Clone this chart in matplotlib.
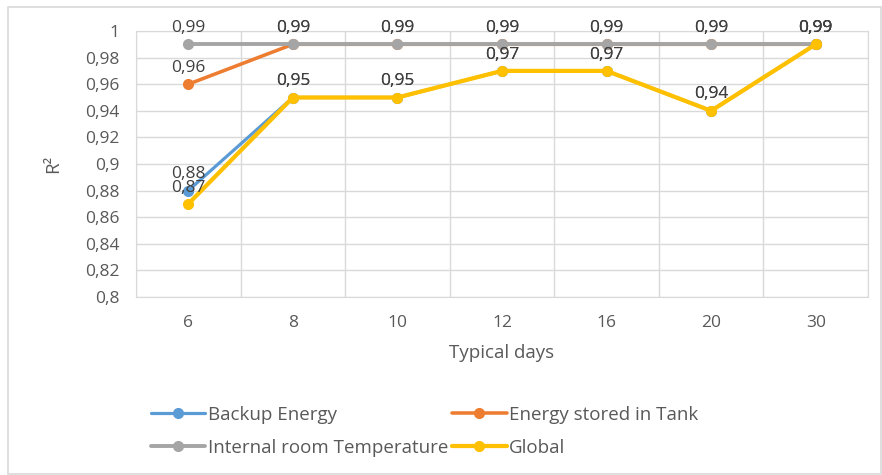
import numpy as np
import matplotlib.pyplot as plt
from matplotlib.patches import Rectangle

plt.rcParams['font.family'] = ['Open Sans', 'DejaVu Sans']

days = ['6', '8', '10', '12', '16', '20', '30']
backup = [0.88, 0.95, 0.95, 0.97, 0.97, 0.94, 0.99]
tank = [0.96, 0.99, 0.99, 0.99, 0.99, 0.99, 0.99]
room = [0.99, 0.99, 0.99, 0.99, 0.99, 0.99, 0.99]
glob = [0.87, 0.95, 0.95, 0.97, 0.97, 0.94, 0.99]

names = ['Backup Energy', 'Energy stored in Tank', 'Internal room Temperature', 'Global']
colors = ['#5B9BD5', '#ED7D31', '#A5A5A5', '#FFC000']
txt = '#595959'

fig = plt.figure(figsize=(8.82, 4.75), dpi=100)
fig.patches.append(Rectangle((8/882, 1/475), 873/882, 467/475, transform=fig.transFigure,
                             fill=False, edgecolor='#D9D9D9', lw=1.2))
ax = fig.add_axes([136/882, 1-297/475, 732/882, 266/475])

x = np.arange(len(days))
handles = []
for i, (ser, name, c) in enumerate(zip([backup, tank, room, glob], names, colors)):
    h, = ax.plot(x, ser, color=c, lw=2.3 + 0.25 * i, marker='o', ms=7, label=name,
                 solid_capstyle='round', zorder=3 + i * 0.1)
    handles.append(h)
    for xi, v in zip(x, ser):
        ax.annotate(f'{v:.2f}'.replace('.', ','), (xi, v), xytext=(0, 6),
                    textcoords='offset points', ha='center', va='bottom',
                    fontsize=12.5, color='#404040', zorder=4)

ax.set_xlim(-0.5, len(days) - 0.5)
ax.set_ylim(0.8, 1.0)
yt = np.arange(0.8, 1.001, 0.02)
ax.set_yticks(yt)
ax.set_yticklabels([f'{v:.2f}'.rstrip('0').rstrip('.').replace('.', ',') for v in yt])
ax.set_xticks(x)
ax.set_xticklabels(days)
ax.set_xticks(np.arange(-0.5, len(days), 1), minor=True)
ax.grid(True, which='major', axis='y', color='#D9D9D9', lw=1)
ax.grid(True, which='minor', axis='x', color='#D9D9D9', lw=1)
ax.set_axisbelow(True)
for s in ax.spines.values():
    s.set_color('#D9D9D9')
ax.tick_params(which='both', length=0, colors=txt, labelsize=12.5)
ax.tick_params(axis='x', pad=13)
ax.tick_params(axis='y', pad=12)
ax.set_xlabel('Typical days', fontsize=13.5, color=txt, labelpad=9)
ax.set_ylabel('R²', fontsize=13.5, color=txt, labelpad=16)

# legend filled row by row, like the original
order = [0, 2, 1, 3]
fig.legend([handles[i] for i in order], [names[i] for i in order],
           loc='upper left', bbox_to_anchor=(134/882, 1-389/475), ncol=2, frameon=False,
           fontsize=13.5, labelcolor=txt, handlelength=2.9, handletextpad=0.15,
           columnspacing=0.2, labelspacing=0.8)

fig.savefig('out.png', dpi=100)
